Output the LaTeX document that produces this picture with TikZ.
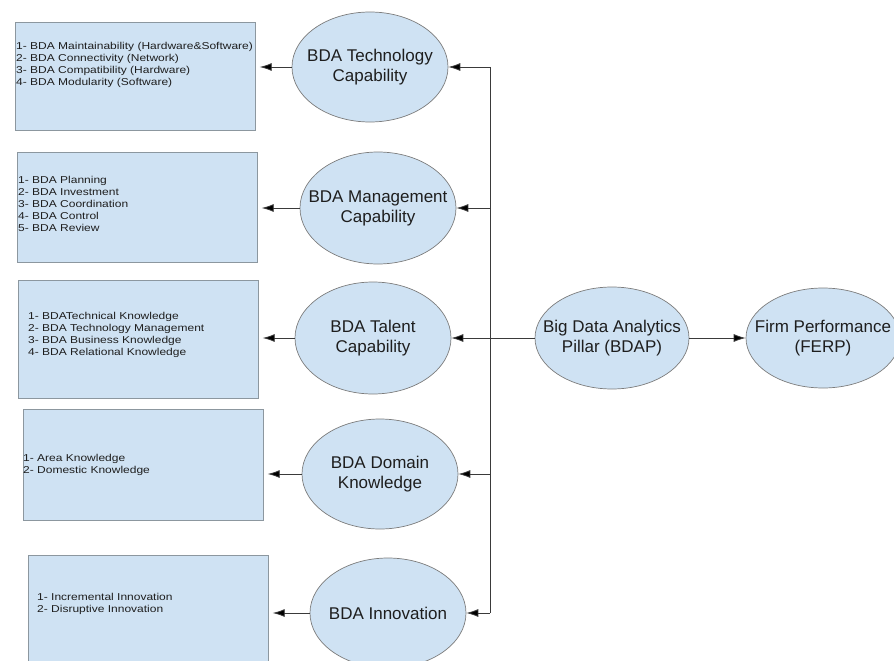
\documentclass[tikz,border=0pt]{standalone}
\usepackage{fontspec}
\setmainfont{Liberation Sans}
\newfontfamily\listfont[FakeStretch=1.2]{Liberation Sans}
\usetikzlibrary{shapes.geometric,arrows.meta}

\definecolor{palefill}{HTML}{CFE2F3}
\definecolor{boxedge}{HTML}{8C979F}
\definecolor{bubbleedge}{HTML}{7C7C7C}
\definecolor{inkline}{HTML}{3A3A3A}
\definecolor{inktext}{HTML}{1E1E1E}

\tikzset{
  bubble/.style={ellipse, draw=bubbleedge, line width=0.7pt, fill=palefill,
    minimum width=156pt, minimum height=110pt, inner sep=0pt},
  bubbletext/.style={align=center, text=inktext,
    font=\fontsize{17}{20}\selectfont, inner sep=0pt},
  listbox/.style={rectangle, draw=boxedge, line width=0.7pt, fill=palefill,
    minimum width=240pt, anchor=north west, inner sep=0pt},
  listtext/.style={align=left, anchor=west, text=inktext, inner sep=0pt,
    font=\listfont\fontsize{10}{11.8}\selectfont},
  arr/.style={draw=inkline, line width=0.8pt,
    -{Latex[length=12pt,width=8pt,fill=black]}},
  wire/.style={draw=inkline, line width=0.8pt}
}

\begin{document}
\begin{tikzpicture}[x=1pt,y=-1pt]
\useasboundingbox (0,0) rectangle (894,661);
\clip (0,0) rectangle (894,661);

% list boxes on the left
\node[listbox, minimum height=108pt] (b1) at (15,22) {};
\node[listbox, minimum height=110pt] (b2) at (17,152) {};
\node[listbox, minimum height=118pt] (b3) at (18,280) {};
\node[listbox, minimum height=111pt] (b4) at (23,409) {};
\node[listbox, minimum height=130pt] (b5) at (28,555) {};

\node[listtext] (b1t) at (16,65) {1- BDA Maintainability (Hardware\&Software)\\2- BDA Connectivity (Network)\\3- BDA Compatibility (Hardware)\\4- BDA Modularity (Software)};
\node[listtext] (b2t) at (18,204) {1- BDA Planning\\2- BDA  Investment\\3- BDA  Coordination\\4- BDA Control\\5- BDA Review};
\node[listtext] (b3t) at (28,335) {1- BDATechnical Knowledge\\2- BDA  Technology Management\\3- BDA Business Knowledge\\4- BDA Relational Knowledge};
\node[listtext] (b4t) at (23,465) {1- Area Knowledge\\2- Domestic Knowledge};
\node[listtext] (b5t) at (37,604) {1- Incremental Innovation\\2- Disruptive Innovation};

% capability bubbles
\node[bubble] (tech) at (370,67) {};
\node[bubbletext] (techt) at (tech) {BDA Technology\\Capability};
\node[bubble, minimum height=112pt] (mgmt) at (378,208) {};
\node[bubbletext] (mgmtt) at (mgmt) {BDA Management\\Capability};
\node[bubble, minimum height=112pt] (talent) at (373,338) {};
\node[bubbletext] (talentt) at (talent) {BDA Talent\\Capability};
\node[bubble] (domain) at (380,474) {};
\node[bubbletext] (domaint) at (domain) {BDA Domain\\Knowledge};
\node[bubble] (innov) at (388,613) {};
\node[bubbletext] (innovt) at (innov) {BDA Innovation};

% pillar and performance
\node[bubble, minimum width=154pt, minimum height=102pt] (bdap) at (612,338) {};
\node[bubbletext] (bdapt) at (bdap) {Big Data Analytics\\Pillar (BDAP)};
\node[bubble, minimum width=154pt, minimum height=100pt] (ferp) at (823,338) {};
\node[bubbletext] (ferpt) at (ferp) {Firm Performance\\(FERP)};

% distribution bus
\coordinate (busT) at (490,67);
\coordinate (busM) at (490,208);
\coordinate (busD) at (490,474);
\coordinate (busB) at (490,613);
\draw[wire] (busT) -- (busB);

\draw[arr] (busT) -- (tech.east);
\draw[arr] (busM) -- (mgmt.east);
\draw[arr] (bdap.west) -- (talent.east);
\draw[arr] (busD) -- (domain.east);
\draw[arr] (busB) -- (innov.east);
\draw[arr] (bdap.east) -- (ferp.west);

% bubbles to their lists
\draw[arr, shorten >=4pt] (tech.west) -- (tech.west -| b1.east);
\draw[arr, shorten >=4pt] (mgmt.west) -- (mgmt.west -| b2.east);
\draw[arr, shorten >=4pt] (talent.west) -- (talent.west -| b3.east);
\draw[arr, shorten >=4pt] (domain.west) -- (domain.west -| b4.east);
\draw[arr, shorten >=4pt] (innov.west) -- (innov.west -| b5.east);
\end{tikzpicture}
\end{document}
